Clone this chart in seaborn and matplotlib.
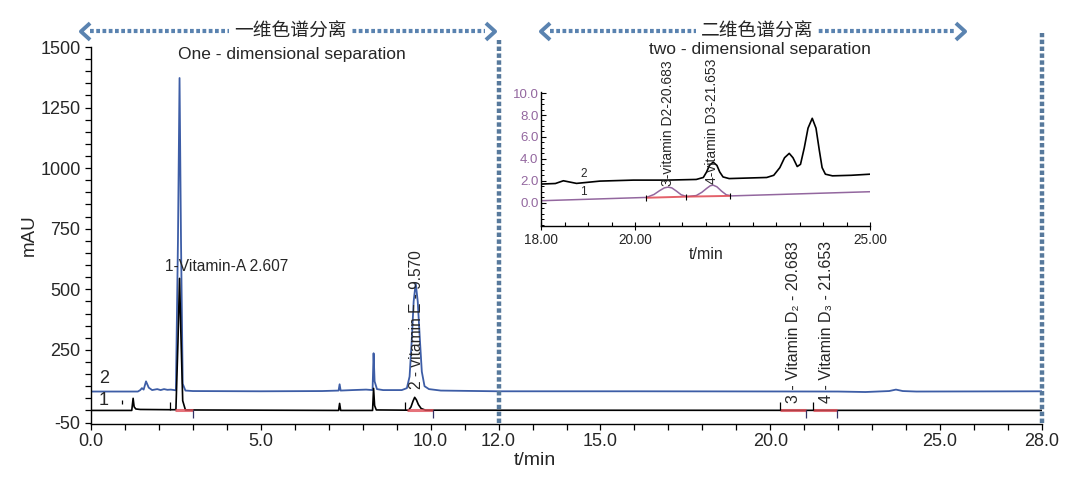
import numpy as np
import pandas as pd
import matplotlib
matplotlib.use("Agg")
import matplotlib.pyplot as plt
from matplotlib.ticker import MultipleLocator, FixedLocator, FormatStrFormatter
import seaborn as sns

# ---------------- data ----------------
# main chromatogram, trace 1 (black)
black_t = [0.0, 1.20, 1.24, 1.27, 1.32, 1.45, 2.30, 2.50, 2.56, 2.607,
           2.65, 2.70, 2.78, 7.29, 7.32, 7.35, 8.29, 8.32, 8.35, 8.40,
           9.35, 9.42, 9.48, 9.53, 9.58, 9.64, 9.72, 9.85, 28.0]
black_v = [0, 0, 50, 15, 6, 4, 3, 3, 280, 545,
           300, 40, 2, 0, 29, 0, 0, 91, 20, 2,
           1, 14, 38, 54, 44, 24, 8, 1, 0]
# main chromatogram, trace 2 (blue)
blue_t = [0.0, 1.38, 1.45, 1.50, 1.55, 1.62, 1.70, 1.80, 1.95, 2.05,
          2.15, 2.25, 2.35, 2.50, 2.56, 2.607, 2.65, 2.70, 2.78, 3.0,
          5.0, 6.8, 7.29, 7.32, 7.35, 7.7, 8.1, 8.29, 8.32, 8.35,
          8.42, 8.6, 9.15, 9.30, 9.38, 9.44, 9.50, 9.56, 9.62, 9.68,
          9.74, 9.82, 9.95, 10.3, 12.0, 16.0, 22.0, 22.8, 23.5, 23.7,
          23.9, 24.3, 28.0]
blue_v = [78, 78, 84, 92, 86, 120, 94, 84, 88, 84,
          88, 85, 86, 83, 700, 1372, 700, 110, 82, 80,
          79, 80, 82, 108, 82, 84, 86, 84, 236, 120,
          88, 84, 84, 92, 140, 280, 450, 525, 450, 300,
          160, 100, 88, 82, 79, 79, 78, 76, 80, 86,
          80, 78, 79]
# integration markers on trace 1
mark_up_t = [2.32, 9.24, 20.30, 21.27]
mark_down_t = [3.00, 10.06, 21.05, 21.97]
stray_mark_t = [0.90]
red_start = [2.47, 9.30, 20.30, 21.27]
red_end = [3.00, 10.06, 21.05, 21.97]

# inset (two-dimensional detail)
ins2_t = [18.0, 18.3, 18.47, 18.75, 19.25, 19.96, 20.67, 21.3, 21.45, 21.52,
          21.58, 21.66, 21.74, 21.80, 21.87, 22.0, 22.8, 22.95, 23.08, 23.18,
          23.28, 23.36, 23.45, 23.52, 23.60, 23.68, 23.77, 23.85, 23.92, 23.98,
          24.05, 24.2, 24.6, 25.0]
ins2_v = [1.7, 1.75, 2.0, 1.76, 1.97, 2.06, 2.06, 2.12, 2.3, 2.8,
          3.4, 3.7, 3.4, 2.8, 2.35, 2.2, 2.3, 2.5, 3.2, 4.1,
          4.5, 4.1, 3.3, 3.5, 5.0, 6.8, 7.7, 6.8, 4.8, 3.2,
          2.6, 2.45, 2.5, 2.6]
ins1_t = [18.0, 20.24, 20.40, 20.52, 20.62, 20.70, 20.78, 20.88, 20.98, 21.10,
          21.30, 21.42, 21.52, 21.60, 21.66, 21.74, 21.84, 21.94, 22.05, 25.0]
ins1_v = [0.18, 0.48, 0.75, 1.1, 1.35, 1.42, 1.35, 1.05, 0.72, 0.56,
          0.65, 0.95, 1.3, 1.55, 1.6, 1.45, 1.05, 0.72, 0.62, 1.0]
ins_red_t = [20.24, 21.08, 22.01]
ins_red_v = [0.45, 0.55, 0.62]

x_ticks = [0, 5, 10, 12, 15, 20, 25, 28]
y_ticks = [-50, 250, 500, 750, 1000, 1250, 1500]
ins_x_ticks = [18, 20, 25]
ins_y_ticks = [0, 2, 4, 6, 8, 10]

# ---------------- style ----------------
sns.set_theme(style="ticks")
plt.rcParams["font.family"] = ["Liberation Sans", "Noto Sans CJK SC", "DejaVu Sans"]
plt.rcParams["axes.unicode_minus"] = False
FAM = ["Liberation Sans", "DejaVu Sans"]
CJK = ["Noto Sans CJK SC", "DejaVu Sans"]

BLUE = "#3d5da6"
RED = "#e0505a"
DOT = "#57799c"
ARROW = "#5a83b0"
PURPLE = "#93679f"

fig = plt.figure(figsize=(10.88, 4.78), dpi=100)
W, H = 1088, 478
ax = fig.add_axes([91 / W, 1 - 424 / H, 951 / W, 377 / H])

df_b = pd.DataFrame({"t": black_t, "v": black_v})
df_u = pd.DataFrame({"t": blue_t, "v": blue_v})
sns.lineplot(data=df_u, x="t", y="v", ax=ax, color=BLUE, lw=1.3, legend=False)
sns.lineplot(data=df_b, x="t", y="v", ax=ax, color="black", lw=1.2, legend=False)

for s, e in zip(red_start, red_end):
    ax.plot([s, e], [1, 1], color=RED, lw=2.2, alpha=0.8, solid_capstyle="butt")
ax.vlines(mark_up_t, 0, 33, color="black", lw=0.9)
ax.vlines(mark_down_t, -32, 0, color="#333366", lw=0.9)
ax.vlines(stray_mark_t, 25, 42, color="black", lw=0.9)

ax.set_xlim(0, 28)
ax.set_ylim(-56, 1500)
sns.despine(ax=ax)
ax.xaxis.set_major_locator(FixedLocator(x_ticks))
ax.xaxis.set_major_formatter(FormatStrFormatter("%.1f"))
ax.xaxis.set_minor_locator(MultipleLocator(1))
ax.yaxis.set_major_locator(FixedLocator(y_ticks))
ax.yaxis.set_minor_locator(MultipleLocator(50))
ax.tick_params(axis="both", which="both", direction="out", color="black",
               width=0.9, length=4.5, labelsize=13)
ax.tick_params(axis="x", pad=2)
ax.tick_params(axis="y", pad=3)
for sp in ("left", "bottom"):
    ax.spines[sp].set_color("black")
    ax.spines[sp].set_linewidth(1.0)
ax.set_xlabel("t/min", fontsize=14)
ax.set_ylabel("mAU", fontsize=13.5)
ax.xaxis.set_label_coords(0.467, -0.075)
ax.yaxis.set_label_coords(-0.056, 0.50)

# trace numbers
ax.text(0.38, 130, "2", fontsize=13, ha="center", va="center")
ax.text(0.38, 40, "1", fontsize=13, ha="center", va="center")

# peak labels
ax.text(2.18, 595, "1-Vitamin-A 2.607", fontsize=11.2, ha="left", va="center")
ax.text(9.57, 90, "2 - vitamin E - 9.570", fontsize=11.2, rotation=90,
        ha="center", va="bottom")
ax.text(20.683, 30, "3 - Vitamin D\u2082 - 20.683", fontsize=11.5, rotation=90,
        ha="center", va="bottom", family=FAM)
ax.text(21.653, 30, "4 - Vitamin D\u2083 - 21.653", fontsize=11.5, rotation=90,
        ha="center", va="bottom", family=FAM)

# vertical dotted separators
ax.plot([12, 12], [-50, 1530], color=DOT, lw=3.2, ls=(0, (1, 0.55)),
        clip_on=False, dash_capstyle="butt")
ax.plot([28, 28], [-50, 1558], color=DOT, lw=3.2, ls=(0, (1, 0.55)),
        clip_on=False, dash_capstyle="butt")

# top double arrows with Chinese headings
left_head = [(0.55, 1), (-0.55, 0), (0.55, -1)]
right_head = [(-0.55, 1), (0.55, 0), (-0.55, -1)]
yA = 1566
for x0, x1, xc, title in [(-0.18, 11.75, 5.86, "一维色谱分离"),
                          (13.37, 25.59, 19.6, "二维色谱分离")]:
    ax.plot([x0 + 0.15, x1 - 0.15], [yA, yA], color=ARROW, lw=3.0,
            ls=(0, (0.9, 0.6)), clip_on=False, dash_capstyle="butt")
    ax.plot([x0], [yA], marker=left_head, ms=12, mew=2.8, mfc="none",
            mec=ARROW, clip_on=False, ls="none")
    ax.plot([x1], [yA], marker=right_head, ms=12, mew=2.8, mfc="none",
            mec=ARROW, clip_on=False, ls="none")
    ax.text(xc, yA, title, fontsize=13.5, ha="center", va="center", family=CJK,
            bbox=dict(boxstyle="square,pad=0.25", fc="white", ec="none"),
            clip_on=False)

ax.text(5.92, 1467, "One - dimensional separation", fontsize=12.5,
        ha="center", va="center")
ax.text(19.7, 1490, "two - dimensional separation", fontsize=12.5,
        ha="center", va="center", clip_on=False)

# ---------------- inset ----------------
axi = fig.add_axes([541.3 / W, 1 - 225.7 / H, 328.7 / W, 133.7 / H])
df_i2 = pd.DataFrame({"t": ins2_t, "v": ins2_v})
df_i1 = pd.DataFrame({"t": ins1_t, "v": ins1_v})
sns.lineplot(data=df_i1, x="t", y="v", ax=axi, color=PURPLE, lw=1.1, legend=False)
sns.lineplot(data=df_i2, x="t", y="v", ax=axi, color="black", lw=1.2, legend=False)
axi.plot(ins_red_t, ins_red_v, color=RED, lw=1.4, alpha=0.9)
axi.vlines(ins_red_t, [v - 0.3 for v in ins_red_v], [v + 0.25 for v in ins_red_v],
           color="black", lw=0.8)
axi.set_xlim(18, 25)
axi.set_ylim(-2.1, 10.1)
sns.despine(ax=axi)
axi.xaxis.set_major_locator(FixedLocator(ins_x_ticks))
axi.xaxis.set_major_formatter(FormatStrFormatter("%.2f"))
axi.xaxis.set_minor_locator(MultipleLocator(0.5))
axi.yaxis.set_major_locator(FixedLocator(ins_y_ticks))
axi.yaxis.set_major_formatter(FormatStrFormatter("%.1f"))
axi.yaxis.set_minor_locator(MultipleLocator(0.5))
axi.tick_params(axis="x", which="major", direction="inout", length=6, width=0.8,
                labelsize=9.8, pad=2, color="black")
axi.tick_params(axis="x", which="minor", direction="in", length=3, width=0.8,
                color="black")
axi.tick_params(axis="y", which="major", direction="in", length=3.5, width=0.8,
                labelsize=9.5, labelcolor=PURPLE, pad=2, color="black")
axi.tick_params(axis="y", which="minor", direction="in", length=2, width=0.7,
                color="black")
for sp in ("left", "bottom"):
    axi.spines[sp].set_color("black")
    axi.spines[sp].set_linewidth(1.0)
axi.set_xlabel("t/min", fontsize=11.5, labelpad=0)
axi.set_ylabel("")
axi.text(18.9, 2.6, "2", fontsize=8.5, ha="center", va="center")
axi.text(18.9, 0.95, "1", fontsize=8.5, ha="center", va="center")
axi.text(20.70, 1.55, "3-vitamin D2-20.683", fontsize=10, rotation=90,
         ha="center", va="bottom", clip_on=False)
axi.text(21.64, 1.75, "4-vitamin D3-21.653", fontsize=10, rotation=90,
         ha="center", va="bottom", clip_on=False)

fig.savefig("out.png", dpi=100)
